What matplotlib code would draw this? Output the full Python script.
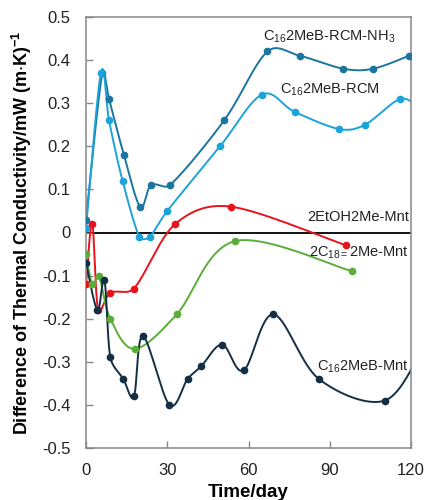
import numpy as np
import matplotlib
matplotlib.use("Agg")
import matplotlib.pyplot as plt

plt.rcParams['font.family'] = ['Liberation Sans', 'DejaVu Sans']
plt.rcParams['mathtext.fontset'] = 'custom'
plt.rcParams['mathtext.rm'] = 'Liberation Sans'
plt.rcParams['mathtext.it'] = 'Liberation Sans'
plt.rcParams['mathtext.bf'] = 'Liberation Sans:bold'

# measured series (day, difference of thermal conductivity)
nh3_day = [0, 6, 8.5, 14, 20, 24, 31, 51, 67, 79, 95, 106, 119.3]
nh3_val = [0.03, 0.37, 0.31, 0.18, 0.06, 0.11, 0.11, 0.26, 0.42, 0.41, 0.38, 0.38, 0.41]

rcm_day = [0, 5.5, 8.5, 13.5, 19.7, 23.5, 30, 49.5, 65, 77, 93.5, 103, 116, 123]
rcm_val = [0.01, 0.37, 0.26, 0.12, -0.01, -0.01, 0.05, 0.20, 0.32, 0.28, 0.24, 0.25, 0.31, 0.29]

etoh_day = [0, 2.3, 4.5, 9, 17.7, 33, 53.5, 96]
etoh_val = [-0.12, 0.02, -0.18, -0.14, -0.13, 0.02, 0.06, -0.03]

c18_day = [0, 2.3, 4.7, 9, 18, 33.5, 55, 98.3]
c18_val = [-0.05, -0.12, -0.10, -0.20, -0.27, -0.19, -0.02, -0.09]

mnt_day = [0, 4.2, 6.8, 9, 13.8, 17.7, 21, 30.8, 37.5, 42.6, 50.3, 58.2, 69.2, 86, 110.3, 125]
mnt_val = [-0.07, -0.18, -0.11, -0.29, -0.34, -0.38, -0.24, -0.40, -0.34, -0.31, -0.26, -0.32, -0.19, -0.34, -0.39, -0.26]

x_ticks = [0, 30, 60, 90, 120]
y_ticks = [-0.5, -0.4, -0.3, -0.2, -0.1, 0, 0.1, 0.2, 0.3, 0.4, 0.5]
y_ticklabels = ['-0.5', '-0.4', '-0.3', '-0.2', '-0.1', '0', '0.1', '0.2', '0.3', '0.4', '0.5']

# screen scale of one unit on each axis (px), used for smoothing
SX = 325 / 120
SY = 431 / 1.0


def smooth(xs, ys, n=40, f=0.4):
    # catmull-rom bezier in screen units, arms clamped to a share of the segment
    p = np.column_stack([np.asarray(xs) * SX, np.asarray(ys) * SY]).astype(float)
    m = len(p)
    out = []
    t = np.linspace(0, 1, n)[:, None]
    for i in range(m - 1):
        p0 = p[max(i - 1, 0)]
        p1, p2 = p[i], p[i + 1]
        p3 = p[min(i + 2, m - 1)]
        L = np.linalg.norm(p2 - p1)
        a1 = (p2 - p0) / 6
        a2 = (p3 - p1) / 6
        if np.linalg.norm(a1) > f * L:
            a1 = a1 / np.linalg.norm(a1) * f * L
        if np.linalg.norm(a2) > f * L:
            a2 = a2 / np.linalg.norm(a2) * f * L
        c1 = p1 + a1
        c2 = p2 - a2
        seg = ((1 - t) ** 3) * p1 + 3 * ((1 - t) ** 2) * t * c1 + 3 * (1 - t) * t ** 2 * c2 + t ** 3 * p2
        out.append(seg)
    out = np.vstack(out)
    return out[:, 0] / SX, out[:, 1] / SY


fig = plt.figure(figsize=(4.26, 5.0), dpi=100)
ax = fig.add_axes([86 / 426, 52 / 500, 325 / 426, 431 / 500])

series = [
    (nh3_day, nh3_val, '#1b75a0'),
    (rcm_day, rcm_val, '#1ca4d8'),
    (etoh_day, etoh_val, '#e8131b'),
    (c18_day, c18_val, '#5bad3a'),
    (mnt_day, mnt_val, '#142f45'),
]
ax.axhline(0, color='black', lw=1.3, zorder=1)
for xs, ys, col in series:
    sx, sy = smooth(xs, ys)
    ax.plot(sx, sy, color=col, lw=1.4, zorder=2)
    ax.plot(xs, ys, 'o', color=col, ms=4.5, zorder=3)

ax.set_xlim(0, 120)
ax.set_ylim(-0.5, 0.5)
ax.set_xticks(x_ticks)
ax.set_yticks(y_ticks)
ax.set_yticklabels(y_ticklabels)
ax.tick_params(direction='in', length=5, width=1, color='#888888', labelsize=12, labelcolor='#222222')
ax.tick_params(axis='y', pad=11)
ax.tick_params(axis='x', pad=11)
for sp in ax.spines.values():
    sp.set_color('#888888')
    sp.set_linewidth(1.1)

ax.set_xlabel('Time/day', fontsize=13.5, fontweight='bold', labelpad=4)
ax.set_ylabel(r'Difference of Thermal Conductivity/mW $\mathregular{(m{\cdot}K)^{-1}}$',
              fontsize=13, fontweight='bold', labelpad=6)

lab = dict(fontsize=10.5, color='#222222', va='center')
tr = lambda px, py: (px / 426, 1 - py / 500)
fig.text(*tr(263, 37), r'C$_{16}$2MeB-RCM-NH$_{3}$', **lab)
fig.text(*tr(280, 90), r'C$_{16}$2MeB-RCM', **lab)
fig.text(*tr(409, 217), '2EtOH2Me-Mnt', ha='right', **lab)
fig.text(*tr(409, 253), r'2C$_{18=}$2Me-Mnt', ha='right', **lab)
fig.text(*tr(409, 367), r'C$_{16}$2MeB-Mnt', ha='right', **lab)

fig.savefig('out.png', dpi=100)
